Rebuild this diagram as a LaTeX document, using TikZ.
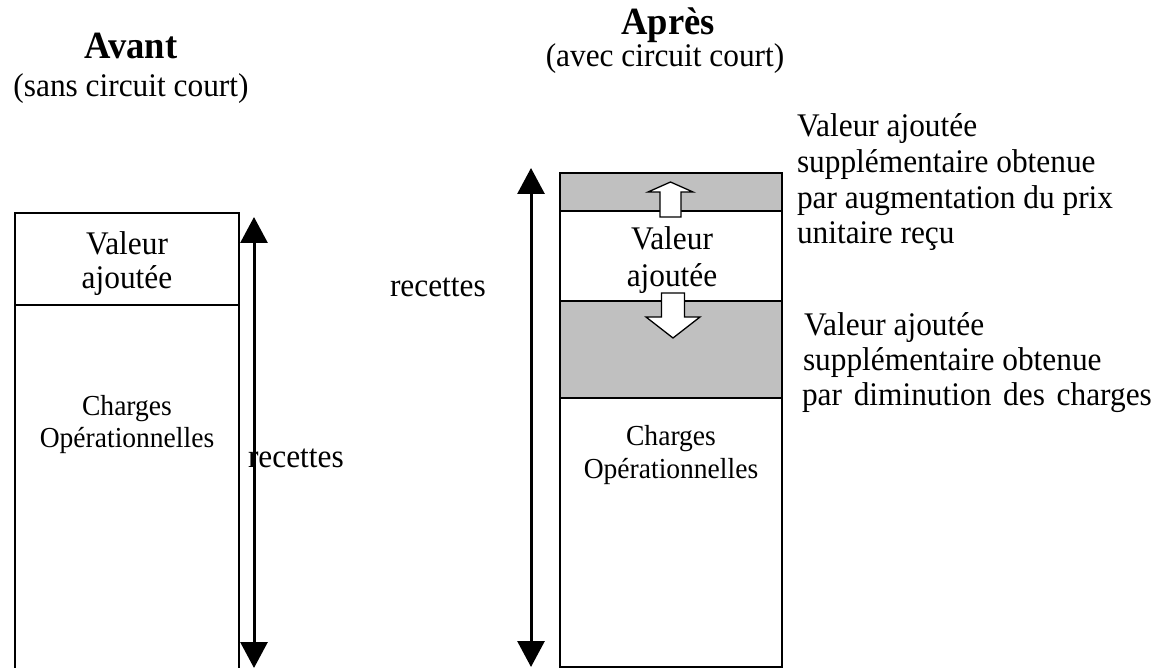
\documentclass[tikz,border=0pt]{standalone}
\usepackage{fontspec}
\setmainfont[FakeStretch=0.95]{Liberation Serif}
\usetikzlibrary{arrows.meta}
\definecolor{shade}{HTML}{C0C0C0}
\begin{document}
\begin{tikzpicture}[x=1pt,y=-1pt,
  box/.style={draw=black,line width=2pt,inner sep=0pt,outer sep=0pt},
  txt/.style={inner sep=0pt,outer sep=0pt,font=\fontsize{33}{36}\selectfont},
  small/.style={inner sep=0pt,outer sep=0pt,font=\fontsize{29}{32}\selectfont},
  ttl/.style={inner sep=0pt,outer sep=0pt,font=\fontsize{38.5}{40}\selectfont\bfseries},
  dimarrow/.style={line width=3pt,{Triangle[length=26pt,width=27pt]}-{Triangle[length=26pt,width=27pt]}},
  hollow/.style={draw=black,fill=white,line width=1.3pt,line join=miter}]
\useasboundingbox (0,0) rectangle (1164,668);
\clip (0,0) rectangle (1164,668);

% titles
\node[ttl,anchor=base] (avant) at (131,59) {Avant};
\node[txt,anchor=base] (sans) at (131,97) {(sans circuit court)};
\node[ttl,anchor=base] (apres) at (668,35) {Après};
\node[txt,anchor=base] (avec) at (665,67) {(avec circuit court)};

% left column
\node[box,minimum width=224pt,minimum height=92pt] (lva) at (127,259) {};
\node[box,minimum width=224pt,minimum height=395pt] (lch) at (127,502.5) {};
\node[txt,anchor=base] (lva1) at (127,255) {Valeur};
\node[txt,anchor=base] (lva2) at (127,288) {ajoutée};
\node[small,anchor=base] (lch1) at (127,415) {Charges};
\node[small,anchor=base] (lch2) at (127,447) {Opérationnelles};
\node[txt,anchor=base west] (lrec) at (248,467) {recettes};
\coordinate (ltop) at (254,217);
\coordinate (lbot) at (254,668);
\draw[dimarrow] (lbot) -- (ltop);

% right column
\node[box,fill=shade,minimum width=222pt,minimum height=38pt] (rg1) at (671,192) {};
\node[box,fill=white,minimum width=222pt,minimum height=90pt] (rva) at (671,256) {};
\node[box,fill=shade,minimum width=222pt,minimum height=97pt] (rg2) at (671,349.5) {};
\node[box,fill=white,minimum width=222pt,minimum height=269pt] (rch) at (671,532.5) {};
\node[txt,anchor=base] (rva1) at (672,250) {Valeur};
\node[txt,anchor=base] (rva2) at (672,287) {ajoutée};
\node[small,anchor=base] (rch1) at (671,445) {Charges};
\node[small,anchor=base] (rch2) at (671,478) {Opérationnelles};
\node[txt,anchor=base west] (rrec) at (390,296) {recettes};
\coordinate (rtop) at (531,168);
\coordinate (rbot) at (531,667);
\draw[dimarrow] (rbot) -- (rtop);

% hollow arrows
\draw[hollow] (660,217) -- (660,192) -- (648,192) -- (670.5,182) -- (693,192) -- (681,192) -- (681,217) -- cycle;
\draw[hollow] (661.5,293) -- (661.5,317) -- (646,317) -- (673,338) -- (700,317) -- (684.5,317) -- (684.5,293) -- cycle;

% explanations
\node[txt,anchor=base west] (e1a) at (797,137) {Valeur ajoutée};
\node[txt,anchor=base west] (e1b) at (797,173) {supplémentaire obtenue};
\node[txt,anchor=base west] (e1c) at (797,208.5) {par augmentation du prix};
\node[txt,anchor=base west] (e1d) at (797,244) {unitaire reçu};
\node[txt,anchor=base west] (e2a) at (804,335) {Valeur ajoutée};
\node[txt,anchor=base west] (e2b) at (803,370) {supplémentaire obtenue};
\node[txt,anchor=base west] (e2c) at (802,405) {\spaceskip=1.5\fontdimen2\font par diminution des charges};
\end{tikzpicture}
\end{document}
